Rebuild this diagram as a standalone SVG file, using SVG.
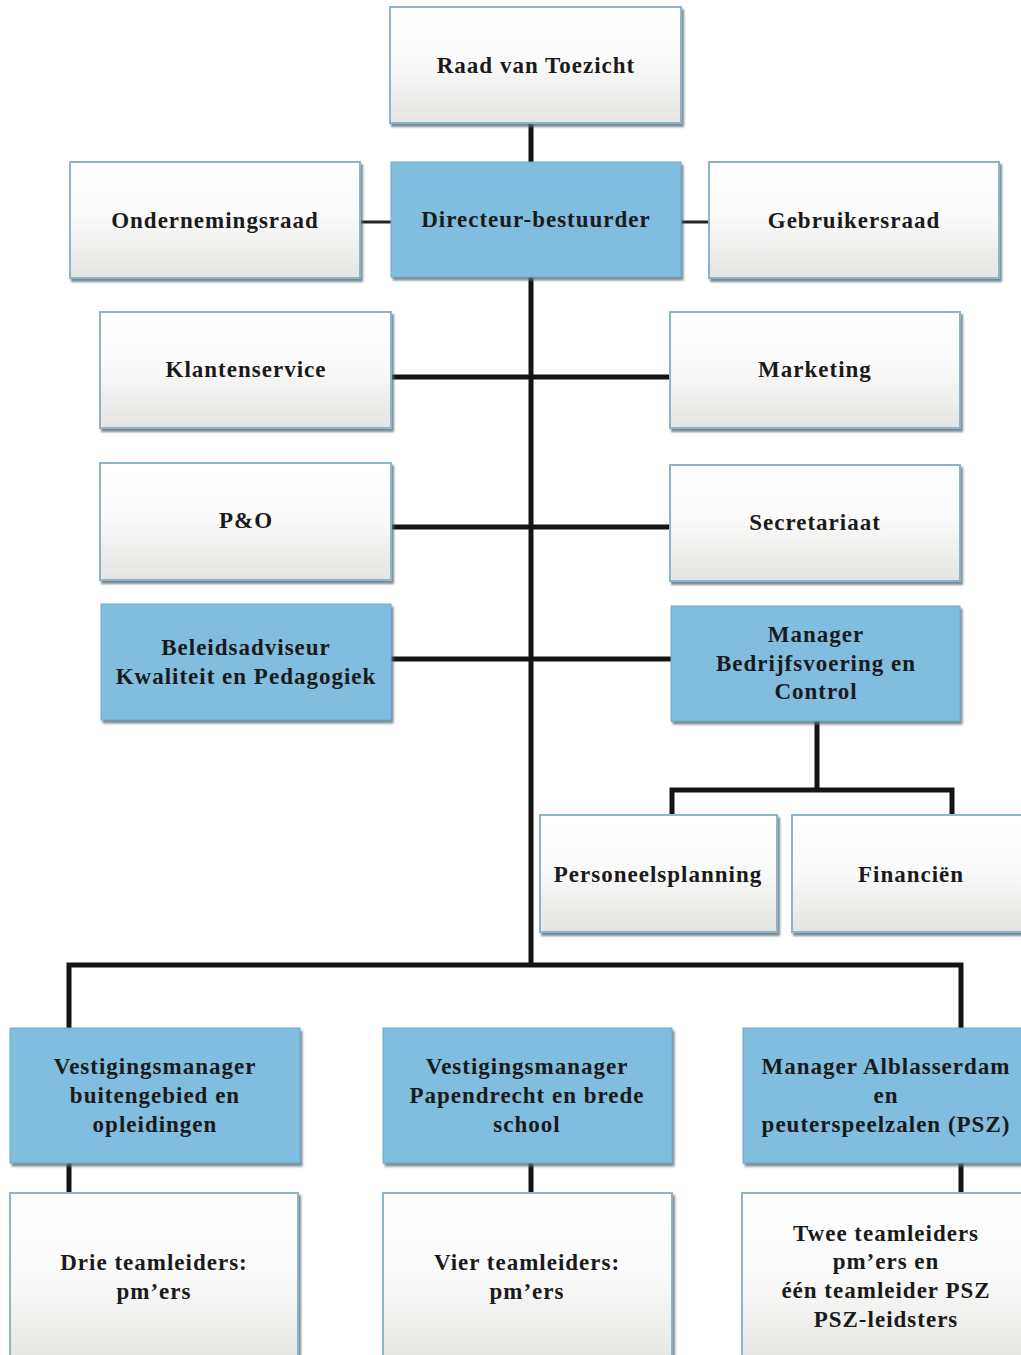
<svg xmlns="http://www.w3.org/2000/svg" width="1021" height="1355" viewBox="0 0 1021 1355">
<defs>
<linearGradient id="wg" x1="0" y1="0" x2="0" y2="1">
<stop offset="0" stop-color="#ffffff"/>
<stop offset="0.45" stop-color="#fbfbfb"/>
<stop offset="1" stop-color="#e4e4e2"/>
</linearGradient>
<filter id="sh" x="-5%" y="-5%" width="115%" height="115%">
<feDropShadow dx="2" dy="3" stdDeviation="1" flood-color="#5a6a76" flood-opacity="0.8"/>
</filter>
</defs>
<style>
.w{fill:url(#wg);stroke:#8fb3c9;stroke-width:2;filter:url(#sh)}
.b{fill:#80bddf;stroke:#6fa9c9;stroke-width:1;filter:url(#sh)}
text{font-family:"Liberation Serif","Times New Roman",serif;font-weight:bold;font-size:23px;letter-spacing:1px;fill:#1a1a1a;text-anchor:middle}
.c{stroke:#141414;stroke-width:5;fill:none}
.t{stroke:#222;stroke-width:3;fill:none}
</style>
<rect width="1021" height="1355" fill="#ffffff"/>
<g id="connectors">
<line class="c" x1="531" y1="123" x2="531" y2="162"/>
<line class="t" x1="360" y1="222" x2="391" y2="222"/>
<line class="t" x1="681" y1="222" x2="709" y2="222"/>
<line class="c" x1="531" y1="277" x2="531" y2="966"/>
<line class="c" x1="391" y1="377" x2="670" y2="377"/>
<line class="c" x1="391" y1="527" x2="670" y2="527"/>
<line class="c" x1="391" y1="659" x2="671" y2="659"/>
<line class="c" x1="817" y1="721" x2="817" y2="790"/>
<polyline class="c" points="672,815 672,790 952,790 952,815"/>
<polyline class="c" points="69,1028 69,965 961,965 961,1028"/>
<line class="c" x1="69" y1="1163" x2="69" y2="1193"/>
<line class="c" x1="531" y1="1163" x2="531" y2="1193"/>
<line class="c" x1="961" y1="1163" x2="961" y2="1193"/>
</g>
<g id="raad"><rect class="w" x="390" y="7" width="291" height="116"/><text x="536" y="73">Raad van Toezicht</text></g>
<g id="directeur"><rect class="b" x="391" y="162" width="290" height="115"/><text x="536" y="227">Directeur-bestuurder</text></g>
<g id="ondernemingsraad"><rect class="w" x="70" y="162" width="290" height="116"/><text x="215" y="228">Ondernemingsraad</text></g>
<g id="gebruikersraad"><rect class="w" x="709" y="162" width="290" height="116"/><text x="854" y="228">Gebruikersraad</text></g>
<g id="klantenservice"><rect class="w" x="100" y="312" width="291" height="116"/><text x="246" y="377">Klantenservice</text></g>
<g id="marketing"><rect class="w" x="670" y="312" width="290" height="116"/><text x="815" y="377">Marketing</text></g>
<g id="po"><rect class="w" x="100" y="463" width="291" height="117"/><text x="246" y="528">P&amp;O</text></g>
<g id="secretariaat"><rect class="w" x="670" y="465" width="290" height="116"/><text x="815" y="530">Secretariaat</text></g>
<g id="beleidsadviseur"><rect class="b" x="101" y="604" width="290" height="116"/><text x="246" y="655">Beleidsadviseur</text><text x="246" y="684">Kwaliteit en Pedagogiek</text></g>
<g id="manager-bv"><rect class="b" x="671" y="606" width="289" height="115"/><text x="816" y="642">Manager</text><text x="816" y="671">Bedrijfsvoering en</text><text x="816" y="699">Control</text></g>
<g id="personeelsplanning"><rect class="w" x="540" y="815" width="237" height="117"/><text x="658" y="882">Personeelsplanning</text></g>
<g id="financien"><rect class="w" x="792" y="815" width="235" height="117"/><text x="911" y="882">Financiën</text></g>
<g id="vm1"><rect class="b" x="10" y="1028" width="290" height="135"/><text x="155" y="1074">Vestigingsmanager</text><text x="155" y="1103">buitengebied en</text><text x="155" y="1132">opleidingen</text></g>
<g id="vm2"><rect class="b" x="383" y="1028" width="289" height="135"/><text x="527" y="1074">Vestigingsmanager</text><text x="527" y="1103">Papendrecht en brede</text><text x="527" y="1132">school</text></g>
<g id="vm3"><rect class="b" x="743" y="1028" width="290" height="135"/><text x="886" y="1074">Manager Alblasserdam</text><text x="886" y="1103">en</text><text x="886" y="1132">peuterspeelzalen (PSZ)</text></g>
<g id="tl1"><rect class="w" x="10" y="1193" width="288" height="175"/><text x="154" y="1270">Drie teamleiders:</text><text x="154" y="1299">pm’ers</text></g>
<g id="tl2"><rect class="w" x="383" y="1193" width="289" height="175"/><text x="527" y="1270">Vier teamleiders:</text><text x="527" y="1299">pm’ers</text></g>
<g id="tl3"><rect class="w" x="742" y="1193" width="290" height="175"/><text x="886" y="1241">Twee teamleiders</text><text x="886" y="1269">pm’ers en</text><text x="886" y="1298">één teamleider PSZ</text><text x="886" y="1327">PSZ-leidsters</text></g>
</svg>
